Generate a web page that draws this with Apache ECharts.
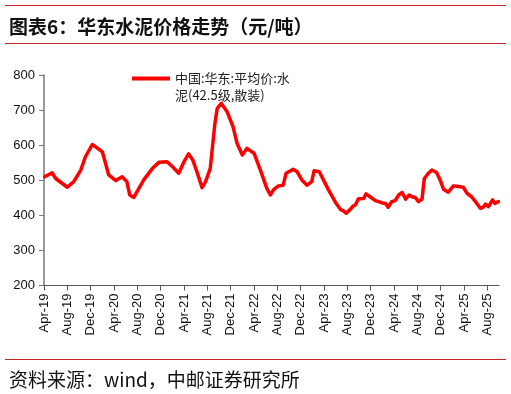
<!DOCTYPE html>
<html>
<head>
<meta charset="utf-8">
<script src="https://cdn.jsdelivr.net/npm/echarts@6/dist/echarts.min.js"></script>
<style>html,body{margin:0;padding:0;background:#fff;}#c{width:511px;height:394px;}</style>
</head>
<body>
<div id="c"></div>
<script>
// x positions: months since Apr-2019
const monthIdx = [0.1,1.4,2.0,4.0,5.1,6.3,7.1,8.3,10.0,11.1,12.3,13.4,14.2,14.7,15.4,17.1,18.6,19.7,21.1,22.0,23.1,24.0,24.8,25.5,26.3,27.1,27.7,28.5,29.3,29.7,30.4,31.4,32.4,33.1,34.0,34.8,36.0,37.1,38.2,38.8,39.4,40.2,41.0,41.5,42.7,43.4,44.2,45.1,45.9,46.3,47.2,47.9,48.8,49.9,50.8,51.4,51.8,52.5,52.9,53.4,53.9,54.8,55.2,55.9,56.8,57.9,58.6,59.0,59.6,60.2,60.8,61.4,62.0,62.6,63.1,63.7,64.2,64.8,65.2,65.9,66.5,67.3,67.9,68.5,69.3,70.2,71.0,71.9,72.5,73.3,74.2,74.8,75.3,75.7,76.2,76.9,77.3,77.9];
const prices = [510,521,505,480,496,529,567,602,581,515,499,510,496,458,451,501,534,551,553,539,520,553,575,558,520,479,496,534,662,705,719,695,653,605,572,591,577,529,477,458,474,484,486,520,531,524,501,486,496,527,524,501,472,439,417,412,406,417,425,430,447,448,461,453,442,436,433,423,439,442,458,465,446,458,453,450,439,446,505,520,529,522,501,474,466,484,482,480,463,453,434,420,423,432,425,444,434,439];
const tickLabels = ['Apr-19','Aug-19','Dec-19','Apr-20','Aug-20','Dec-20','Apr-21','Aug-21','Dec-21','Apr-22','Aug-22','Dec-22','Apr-23','Aug-23','Dec-23','Apr-24','Aug-24','Dec-24','Apr-25','Aug-25'];
const seriesName = '中国:华东:平均价:水泥(42.5级,散装)';
const titleText = '图表6：华东水泥价格走势（元/吨）';
const sourceText = '资料来源：wind，中邮证券研究所';

const tickVals = tickLabels.map((_, i) => i * 4);
const data = monthIdx.map((m, i) => [m, prices[i]]);

const chart = echarts.init(document.getElementById('c'), null, {renderer: 'canvas'});
chart.setOption({
  animation: false,
  backgroundColor: '#fff',
  textStyle: {fontFamily: 'Liberation Sans, Arial, sans-serif'},
  title: [
    {text: titleText, left: 4, top: 12,
     textStyle: {fontSize: 19, fontWeight: 'bold', color: '#111', fontFamily: 'Noto Sans CJK SC'}},
    {text: sourceText, left: 4, top: 365,
     textStyle: {fontSize: 19, fontWeight: 'normal', color: '#111', fontFamily: 'Noto Sans CJK SC'}}
  ],
  graphic: [
    {type: 'line', shape: {x1: 5, y1: 5.5, x2: 506, y2: 5.5}, style: {stroke: '#c9262c', lineWidth: 1}},
    {type: 'line', shape: {x1: 5, y1: 43.5, x2: 506, y2: 43.5}, style: {stroke: '#c9262c', lineWidth: 1}},
    {type: 'line', shape: {x1: 5, y1: 359.5, x2: 506, y2: 359.5}, style: {stroke: '#c9262c', lineWidth: 1}}
  ],
  legend: {
    left: 127, top: 48,
    itemWidth: 38, itemHeight: 18, itemGap: 0,
    data: [{name: seriesName, icon: 'path://M0,0 L38,0 L38,4 L0,4 Z'}],
    formatter: n => '{g| }\n{t|' + n.slice(0, 11) + '}\n{t|' + n.slice(11) + '}',
    textStyle: {
      fontSize: 13, color: '#222', fontFamily: 'Noto Sans CJK SC',
      rich: {
        g: {fontSize: 13, lineHeight: 17, height: 17},
        t: {fontSize: 13, lineHeight: 17, color: '#222', fontFamily: 'Noto Sans CJK SC'}
      }
    }
  },
  grid: {left: 44, right: 12, top: 75, bottom: 108.5, containLabel: false},
  xAxis: {
    type: 'value', min: 0, max: 78, interval: 4,
    splitLine: {show: false},
    axisLine: {lineStyle: {color: '#555', width: 1}},
    axisTick: {show: true, length: 5, customValues: tickVals, lineStyle: {color: '#555'}},
    axisLabel: {
      customValues: tickVals,
      rotate: 90, margin: 8, fontSize: 13, color: '#111',
      formatter: v => { const k = Math.round(v / 4); return (Math.abs(v - k * 4) < 1e-6 && tickLabels[k]) ? tickLabels[k] : ''; }
    }
  },
  yAxis: {
    type: 'value', min: 200, max: 800, interval: 100,
    splitLine: {show: false},
    axisLine: {show: true, lineStyle: {color: '#777', width: 1.5}},
    axisTick: {show: true, length: 5, lineStyle: {color: '#777'}},
    axisLabel: {margin: 9, fontSize: 13, color: '#111'}
  },
  series: [{
    name: seriesName, type: 'line', data: data,
    showSymbol: false, symbol: 'none', smooth: false,
    lineStyle: {color: '#ff0000', width: 3.5, join: 'round', cap: 'round'},
    itemStyle: {color: '#ff0000'}
  }]
});
</script>
</body>
</html>
